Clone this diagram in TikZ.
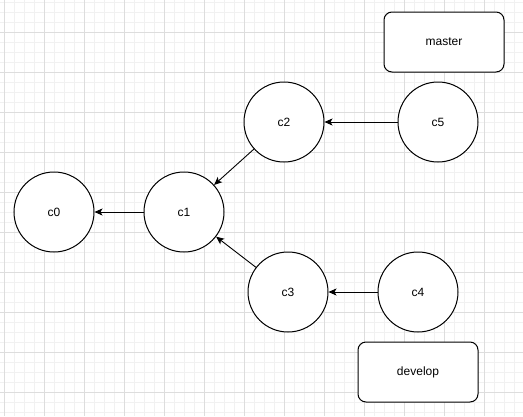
\documentclass[tikz,border=0pt]{standalone}
\usepackage{fontspec}
\setmainfont{Liberation Sans}
\usetikzlibrary{arrows.meta}
\definecolor{minorgrid}{HTML}{F1F1F1}
\definecolor{majorgrid}{HTML}{DDDDDD}
\begin{document}
\begin{tikzpicture}[x=1pt,y=-1pt,
  commit/.style={circle,draw=black,line width=1pt,minimum size=80pt,inner sep=0pt,fill=white,font=\fontsize{12}{14}\selectfont},
  branchbox/.style={rectangle,rounded corners=8pt,draw=black,line width=1pt,minimum width=120pt,minimum height=60pt,inner sep=0pt,fill=white,font=\fontsize{12}{14}\selectfont},
  link/.style={-{Stealth[length=8pt,width=7pt,inset=2pt]},line width=0.9pt},
  minorline/.style={draw=minorgrid,line width=1pt},
  majorline/.style={draw=majorgrid,line width=1pt}]
\useasboundingbox (0,0) rectangle (523,416);
\fill[white] (0,0) rectangle (523,416);
% grid
\foreach \x in {4,14,...,524} {\draw[minorline] (\x,0) -- (\x,416);}
\foreach \y in {2,12,...,416} {\draw[minorline] (0,\y) -- (523,\y);}
\foreach \x in {4,44,...,524} {\draw[majorline] (\x,0) -- (\x,416);}
\foreach \y in {32,72,...,416} {\draw[majorline] (0,\y) -- (523,\y);}
% commits
\node[commit] (c0) at (54,212) {c0};
\node[commit] (c1) at (184,212) {c1};
\node[commit] (c2) at (284,122) {c2};
\node[commit] (c5) at (438,122) {c5};
\node[commit] (c3) at (288,292) {c3};
\node[commit] (c4) at (418,292) {c4};
% branches
\node[branchbox] (master) at (444,42) {master};
\node[branchbox] (develop) at (418,372) {develop};
% links
\draw[link] (c1) -- (c0);
\draw[link] (c2) -- (c1);
\draw[link] (c3) -- (c1);
\draw[link] (c5) -- (c2);
\draw[link] (c4) -- (c3);
\end{tikzpicture}
\end{document}
